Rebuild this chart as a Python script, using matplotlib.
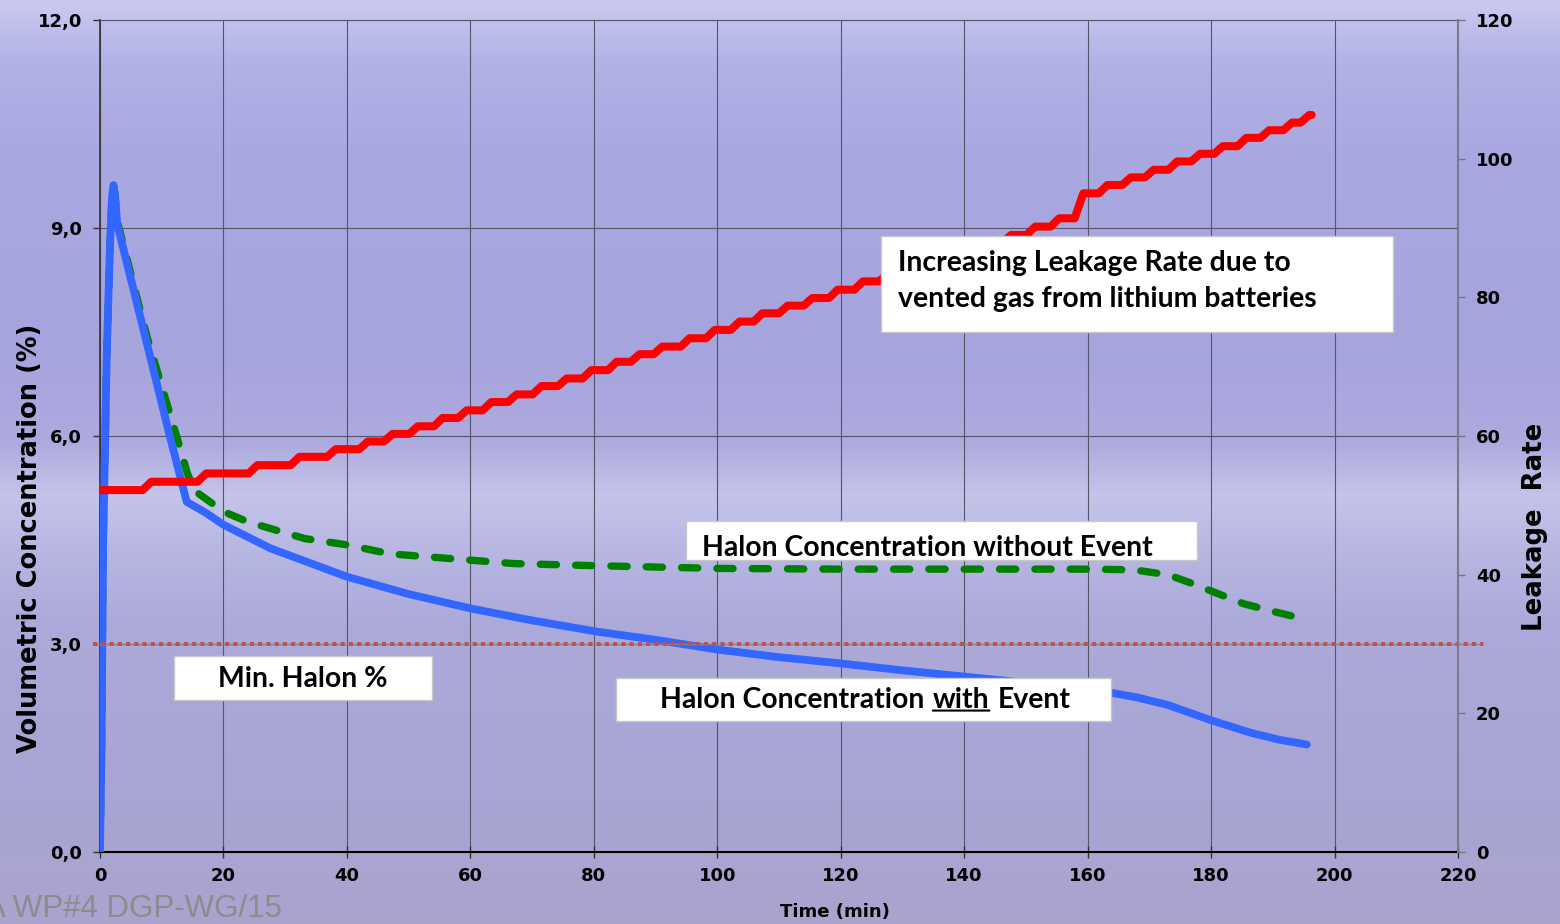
import numpy as np
import matplotlib
matplotlib.use('Agg')
import matplotlib.pyplot as plt
from matplotlib.patches import Rectangle

# Halon concentration with event (%) vs time (min)
t_with = [0, 0.25, 0.5, 1.1, 1.6, 1.95, 2.2, 2.45, 2.8, 7.56, 11.3, 14.05, 17, 20, 27.6, 40,
          50, 60.2, 70, 80.4, 90, 100, 110, 120, 130, 140, 150, 160, 164.2, 168, 173,
          180, 186.4, 191, 195.5]
c_with = [0, 1.5, 4.4, 7.2, 8.7, 9.45, 9.62, 9.45, 9.05, 7.35, 6.0, 5.05, 4.9, 4.72, 4.38, 3.97,
          3.72, 3.51, 3.34, 3.18, 3.06, 2.92, 2.81, 2.72, 2.62, 2.53, 2.44, 2.35, 2.29, 2.23, 2.12,
          1.90, 1.72, 1.62, 1.55]

# Halon concentration without event (%)
t_without = [0, 0.25, 0.5, 1.1, 1.6, 1.95, 2.2, 2.45, 2.8, 7.56, 12.4, 14.2, 15.5, 20, 24, 33.2,
             40, 47, 60, 67, 80, 90, 100, 120, 140, 160, 167.4, 173, 176.7, 181, 185.3,
             189.6, 195.6]
c_without = [0, 1.5, 4.4, 7.2, 8.7, 9.45, 9.62, 9.47, 9.1, 7.45, 6.0, 5.45, 5.2, 4.91, 4.76, 4.52,
             4.43, 4.30, 4.21, 4.16, 4.13, 4.11, 4.09, 4.08, 4.08, 4.08, 4.07, 4.0, 3.88, 3.73, 3.58,
             3.48, 3.35]

# Leakage rate: start level, step times and level after each step
leak_start = 52.2
leak_end_t = 196.3
leak_step_t = [7.6, 16.5, 24.8, 31.6, 37.5, 42.7, 46.7, 50.8, 54.8, 58.7, 62.7, 66.8, 70.8,
               74.9, 78.9, 83.0, 86.7, 90.4, 94.8, 98.9, 102.9, 106.6, 110.7, 114.7, 118.8,
               122.9, 126.9, 130.9, 134.9, 138.9, 142.9, 146.9, 150.8, 154.7, 158.6, 162.5,
               166.3, 170.0, 173.8, 177.5, 181.2, 185.0, 188.7, 192.4, 195.2]
leak_level = [53.4, 54.6, 55.8, 57.0, 58.1, 59.2, 60.3, 61.4, 62.6, 63.7, 64.9, 66.0, 67.2,
              68.3, 69.5, 70.7, 71.8, 72.9, 74.1, 75.3, 76.5, 77.7, 78.8, 79.9, 81.1,
              82.3, 83.4, 84.5, 85.6, 86.7, 87.9, 89.0, 90.2, 91.4, 95.0, 96.2,
              97.3, 98.4, 99.6, 100.7, 101.8, 103.0, 104.1, 105.2, 106.3]

min_halon = 3.0

x_ticks = list(range(0, 221, 20))
y_ticks = [0, 3, 6, 9, 12]
y_ticklabels = ['0,0', '3,0', '6,0', '9,0', '12,0']
y2_ticks = list(range(0, 121, 20))

# build stair polyline for leakage rate
lt = [0]
lv = [leak_start]
prev = leak_start
for ts, lev in zip(leak_step_t, leak_level):
    lt += [ts - 0.7, ts + 0.7]
    lv += [prev, lev]
    prev = lev
lt.append(leak_end_t)
lv.append(prev)

W, H = 1560, 924
fig = plt.figure(figsize=(W / 100, H / 100), dpi=100)

# sky-like background
stops_y = [0, 30, 60, 150, 350, 440, 495, 535, 620, 780, 924]
stops_c = [(202, 202, 240), (190, 190, 236), (178, 178, 230), (170, 168, 224), (166, 164, 220),
           (172, 170, 222), (196, 196, 234), (186, 186, 228), (172, 170, 218), (168, 165, 212),
           (170, 164, 206)]
yy = np.arange(H)
grad = np.zeros((H, 1, 3))
for k in range(3):
    grad[:, 0, k] = np.interp(yy, stops_y, [c[k] for c in stops_c]) / 255
bg = fig.add_axes([0, 0, 1, 1])
bg.imshow(grad, aspect='auto', extent=[0, 1, 0, 1])
bg.axis('off')
bg.set_zorder(-1)

ax = fig.add_axes([100 / W, 72 / H, 1358 / W, 832 / H])
ax.patch.set_alpha(0)
ax2 = ax.twinx()
ax2.patch.set_alpha(0)

ax.set_xlim(0, 220)
ax.set_ylim(0, 12)
ax2.set_ylim(0, 120)

bold = dict(family='DejaVu Sans', weight='bold')

ax.set_xticks(x_ticks)
ax.set_xticklabels([str(v) for v in x_ticks], fontsize=13, **bold)
ax.set_yticks(y_ticks)
ax.set_yticklabels(y_ticklabels, fontsize=13, **bold)
ax2.set_yticks(y2_ticks)
ax2.set_yticklabels([str(v) for v in y2_ticks], fontsize=13, **bold)

ax.tick_params(axis='y', direction='out', length=5, width=1, color='#333333', pad=8)
ax.tick_params(axis='x', direction='inout', length=8, width=1, color='#333333', pad=7)
ax2.tick_params(axis='y', direction='out', length=5, width=1, color='#777777', pad=8)

ax.grid(True, color='#55556a', linewidth=0.8)
ax.spines['left'].set_color('#333333')
ax.spines['left'].set_linewidth(1.2)
ax.spines['bottom'].set_color('black')
ax.spines['bottom'].set_linewidth(1.5)
ax.spines['top'].set_color('#55556a')
ax.spines['top'].set_linewidth(0.8)
ax.spines['right'].set_visible(False)
for s in ['left', 'bottom', 'top']:
    ax2.spines[s].set_visible(False)
ax2.spines['right'].set_color('#7a7a8a')
ax2.spines['right'].set_linewidth(1.5)

# lines
ax.plot(t_without, c_without, color='#008000', lw=5.3, dashes=(2.2, 2.6),
        dash_capstyle='round', solid_joinstyle='round', zorder=3)
ax.plot(t_with, c_with, color='#3366ff', lw=5.6, solid_capstyle='round',
        solid_joinstyle='round', zorder=4)
ax.plot([-1.2, 224], [min_halon, min_halon], color='#8a8290', lw=1.0, zorder=4.5, clip_on=False)
ax.plot([-1.2, 224], [min_halon, min_halon], color='#c0504d', lw=2.9, dashes=(1, 1.05),
        dash_capstyle='butt', zorder=5, clip_on=False)
ax2.plot(lt, lv, color='#ff0000', lw=5.8, solid_capstyle='round', solid_joinstyle='round', zorder=3)

# text boxes (in time / concentration coordinates)
box_font = dict(family='Lato', weight='bold', fontsize=20.4, color='black')


def box(x0, x1, y0, y1):
    r = Rectangle((x0, y0), x1 - x0, y1 - y0, transform=ax.transData, facecolor='white',
                  edgecolor='#c8c8c8', lw=1, zorder=10, clip_on=False)
    ax2.add_patch(r)


box(126.6, 209.4, 7.50, 8.885)
ax2.text(129.2, 8.50, 'Increasing Leakage Rate due to', transform=ax.transData,
         va='center', ha='left', zorder=11, **box_font)
ax2.text(129.2, 7.98, 'vented gas from lithium batteries', transform=ax.transData,
         va='center', ha='left', zorder=11, **box_font)

box(94.93, 177.7, 4.212, 4.774)
ax2.text(97.5, 4.385, 'Halon Concentration without Event', transform=ax.transData,
         va='center', ha='left', zorder=11, **box_font)

box(11.99, 53.79, 2.192, 2.827)
ax2.text(32.9, 2.495, 'Min. Halon %', transform=ax.transData,
         va='center', ha='center', zorder=11, **box_font)

box(83.6, 163.8, 1.89, 2.51)
t_a = ax2.text(90.8, 2.19, 'Halon Concentration', transform=ax.transData,
               va='center', ha='left', zorder=11, **box_font)
t_b = ax2.annotate('with', xy=(1, 0), xycoords=t_a, xytext=(8, 0), textcoords='offset pixels',
                   va='bottom', ha='left', zorder=11, **box_font)
t_c = ax2.annotate('Event', xy=(1, 0), xycoords=t_b, xytext=(8, 0), textcoords='offset pixels',
                   va='bottom', ha='left', zorder=11, **box_font)
ax2.annotate('', xy=(0, 0.1), xycoords=t_b, xytext=(1, 0.1), textcoords=t_b,
             arrowprops=dict(arrowstyle='-', lw=1.5, color='black', shrinkA=0, shrinkB=0),
             zorder=11)

# axis titles
fig.text(30 / W, 1 - 538 / H, 'Volumetric Concentration (%)', rotation=90, ha='center',
         va='center', fontsize=18.5, **bold)
fig.text(1535 / W, 1 - 527 / H, 'Leakage  Rate', rotation=90, ha='center', va='center',
         fontsize=18.7, **bold)
fig.text(835 / W, 1 - 903 / H, 'Time (min)', ha='center', va='top', fontsize=13, **bold)

# footer watermark
fig.text(-15 / W, 1 - 917 / H, 'A WP#4 DGP-WG/15', ha='left', va='baseline',
         fontsize=22.5, family='Liberation Sans', color='#8c8c8c')

fig.savefig('out.png', dpi=100)
